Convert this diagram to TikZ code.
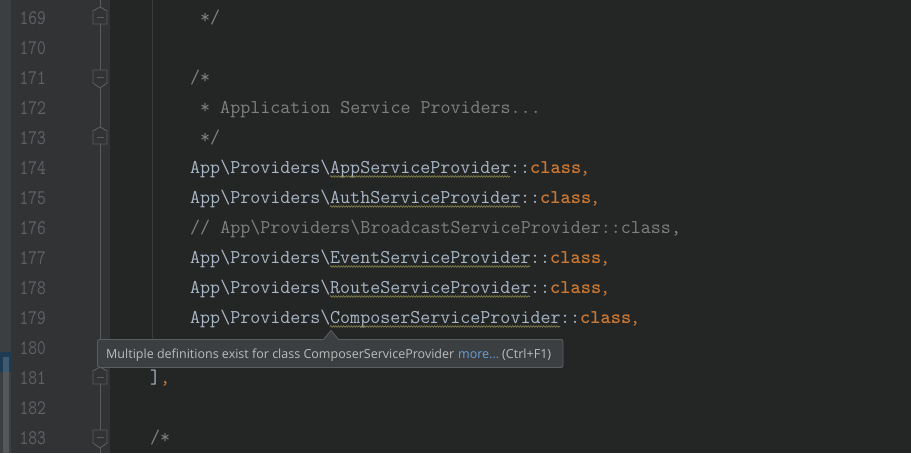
\documentclass[tikz,border=0pt]{standalone}
\usepackage{fontspec}
\setsansfont{Open Sans}
\usetikzlibrary{decorations.pathmorphing}
\definecolor{edbg}{HTML}{242626}
\definecolor{gutter}{HTML}{313335}
\definecolor{strip}{HTML}{3C3F41}
\definecolor{stripblue}{HTML}{1E3B51}
\definecolor{barblue}{HTML}{3F5A6E}
\definecolor{bargray}{HTML}{55585A}
\definecolor{txt}{HTML}{A9B7C6}
\definecolor{cmt}{HTML}{808080}
\definecolor{kw}{HTML}{CC7832}
\definecolor{lnum}{HTML}{606366}
\definecolor{foldc}{HTML}{5A5D5F}
\definecolor{guide}{HTML}{3A3C3C}
\definecolor{tipbg}{HTML}{3C3F41}
\definecolor{tipborder}{HTML}{5B5E60}
\definecolor{tiptext}{HTML}{BBBBBB}
\definecolor{tiplink}{HTML}{6A9FD8}
\definecolor{wavyc}{HTML}{8A8650}
\newcommand{\codefont}{\fontsize{19.45}{19.45}\selectfont\ttfamily}
\newcommand{\numfont}{\fontsize{17}{17}\selectfont\ttfamily}
\begin{document}
\begin{tikzpicture}[x=1pt,y=-1pt,
  code/.style={anchor=base west,inner sep=0pt,font=\codefont,text=txt},
  cmtx/.style={code,text=cmt},
  kwx/.style={code,text=kw},
  lnumx/.style={anchor=base east,inner sep=0pt,font=\numfont,text=lnum},
  foldmark/.style={draw=foldc,fill=gutter,line width=0.9pt,line join=miter},
  wavy/.style={draw=wavyc,line width=0.6pt,decorate,decoration={zigzag,segment length=2.6pt,amplitude=0.8pt}},
  tiptx/.style={anchor=base west,inner sep=0pt,font=\sffamily\fontsize{12.5}{12.5}\selectfont,text=tiptext}]
\useasboundingbox (0,0) rectangle (911,453);
% backgrounds
\fill[edbg] (0,0) rectangle (911,453);
\fill[gutter] (11,0) rectangle (110,453);
\fill[strip] (0,0) rectangle (11,453);
\fill[stripblue] (0,352) rectangle (11,372);
\fill[barblue] (2.5,357) rectangle (9,372);
\fill[bargray] (2.5,372) rectangle (9,453);
% indent guide
\draw[guide,line width=0.9pt] (152.5,0) -- (152.5,345);
% fold line
\draw[foldc,line width=0.9pt] (100,0) -- (100,453);
% line numbers
\foreach \k in {0,...,14}{
  \pgfmathtruncatemacro{\n}{169+\k}
  \node[lnumx] (ln\n) at (46,{24+30*\k}) {\scalebox{1}[1.22]{\n}};
}
% fold markers: end (pointed top)
\foreach \yc in {17,137,377}{
  \draw[foldmark] (93,\yc+7) -- (93,\yc-6) -- (100,\yc-10) -- (107,\yc-6) -- (107,\yc+7) -- cycle;
  \draw[foldc,line width=0.9pt] (96.5,\yc+0.5) -- (103.5,\yc+0.5);
}
% fold markers: start (pointed bottom)
\foreach \yc in {77,437}{
  \draw[foldmark] (93,\yc-7) -- (107,\yc-7) -- (107,\yc+6) -- (100,\yc+11) -- (93,\yc+6) -- cycle;
  \draw[foldc,line width=0.9pt] (96.5,\yc+0.5) -- (103.5,\yc+0.5);
}
% code
\node[cmtx] (c169) at (200,23) {*/};
\node[cmtx] (c171) at (190,83) {/*};
\node[cmtx] (c172) at (200,113) {* Application Service Providers...};
\node[cmtx] (c173) at (200,143) {*/};
% 174
\node[code] (p174) at (190,173) {App\textbackslash Providers\textbackslash};
\node[code] (n174) at (330,173) {AppServiceProvider};
\node[code] (d174) at (510,173) {::};
\node[kwx,font=\codefont\bfseries] (k174) at (530,173) {class};
\node[kwx] (m174) at (580,173) {,};
\draw[wavy] (330,176.5) -- (510,176.5);
% 175
\node[code] (p175) at (190,203) {App\textbackslash Providers\textbackslash};
\node[code] (n175) at (330,203) {AuthServiceProvider};
\node[code] (d175) at (520,203) {::};
\node[kwx,font=\codefont\bfseries] (k175) at (540,203) {class};
\node[kwx] (m175) at (590,203) {,};
\draw[wavy] (330,206.5) -- (520,206.5);
% 176
\node[cmtx] (c176) at (190,233) {// App\textbackslash Providers\textbackslash BroadcastServiceProvider::class,};
% 177
\node[code] (p177) at (190,263) {App\textbackslash Providers\textbackslash};
\node[code] (n177) at (330,263) {EventServiceProvider};
\node[code] (d177) at (530,263) {::};
\node[kwx,font=\codefont\bfseries] (k177) at (550,263) {class};
\node[kwx] (m177) at (600,263) {,};
\draw[wavy] (330,266.5) -- (530,266.5);
% 178
\node[code] (p178) at (190,293) {App\textbackslash Providers\textbackslash};
\node[code] (n178) at (330,293) {RouteServiceProvider};
\node[code] (d178) at (530,293) {::};
\node[kwx,font=\codefont\bfseries] (k178) at (550,293) {class};
\node[kwx] (m178) at (600,293) {,};
\draw[wavy] (330,296.5) -- (530,296.5);
% 179
\node[code] (p179) at (190,323) {App\textbackslash Providers\textbackslash};
\node[code] (n179) at (330,323) {ComposerServiceProvider};
\node[code] (d179) at (560,323) {::};
\node[kwx,font=\codefont\bfseries] (k179) at (580,323) {class};
\node[kwx] (m179) at (630,323) {,};
\draw[wavy] (330,326.5) -- (560,326.5);
% 181, 183
\node[code] (b181) at (150,383) {]};
\node[kwx] (m181) at (160,383) {,};
\node[cmtx] (c183) at (150,443) {/*};
% tooltip
\draw[fill=tipbg,draw=tipborder,line width=0.9pt,rounded corners=2pt] (97.5,339.5) rectangle (563,367.5);
\fill[tipbg] (323.5,340.2) -- (331,330.5) -- (338.5,340.2) -- cycle;
\draw[tipborder,line width=0.9pt] (323.5,339.5) -- (331,330.5) -- (338.5,339.5);
\node[tiptx] (tip1) at (106,358.5) {\resizebox{348pt}{\height}{Multiple definitions exist for class ComposerServiceProvider}};
\node[tiptx,text=tiplink] (tip2) at (458,358.5) {\resizebox{41pt}{\height}{more...}};
\node[tiptx] (tip3) at (502,358.5) {\resizebox{49pt}{\height}{(Ctrl+F1)}};
\end{tikzpicture}
\end{document}
